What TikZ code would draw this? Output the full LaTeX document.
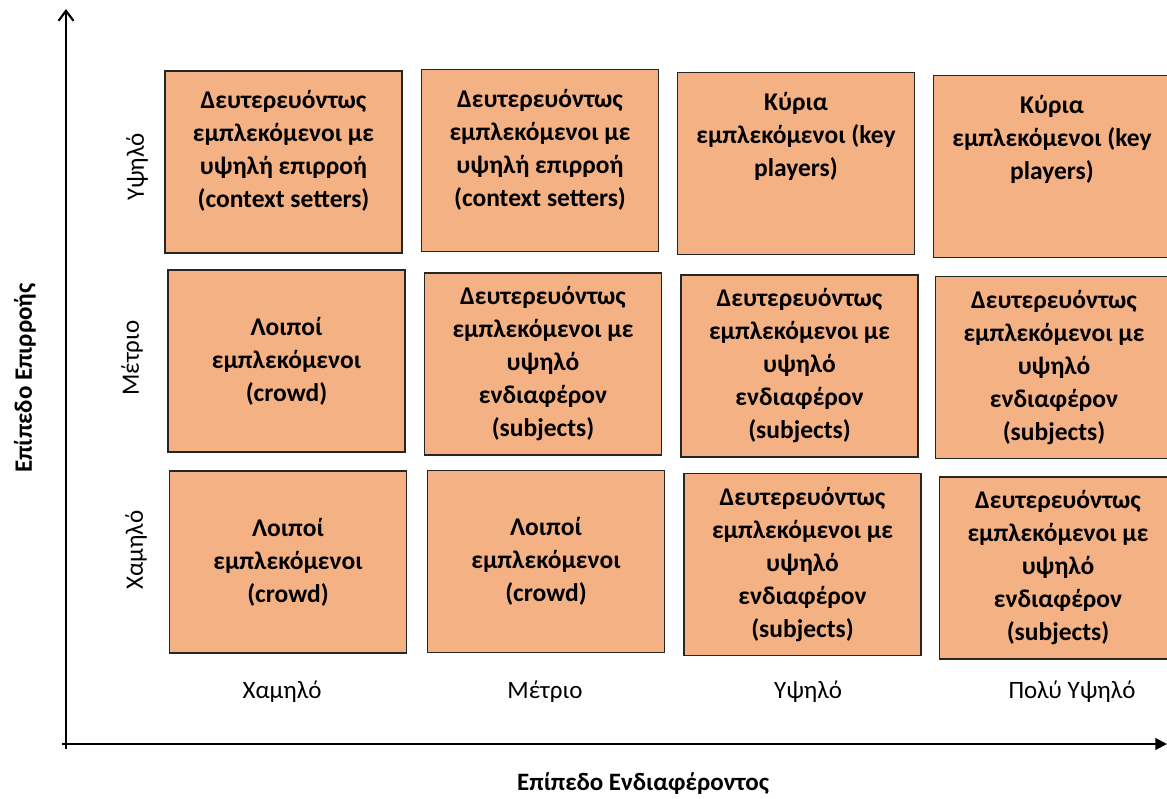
\documentclass[tikz,border=0pt]{standalone}
\usepackage{fontspec}
\setmainfont{Carlito}
\usetikzlibrary{arrows.meta,positioning}
\definecolor{cellfill}{HTML}{F4B183}
\definecolor{celledge}{HTML}{262626}
\tikzset{
  cell/.style={draw=celledge, fill=cellfill, line width=0.8pt, minimum width=142.2pt, minimum height=109.2pt, inner sep=2pt, align=center, font=\bfseries\fontsize{15.3}{19.8}\selectfont},
  celltext/.style={align=center, inner sep=0pt, font=\bfseries\fontsize{15.3}{19.8}\selectfont},
  level/.style={font=\fontsize{15}{18}\selectfont},
  axistitle/.style={font=\bfseries\fontsize{15}{18}\selectfont},
}
\begin{document}
\begin{tikzpicture}[x=0.6pt, y=-0.6pt]
      \clip (0,0) rectangle (1167,798);
      \fill[white] (0,0) rectangle (1167,798);
      % axes
      \coordinate (ytop) at (66,9);
      \coordinate (ybot) at (66,749);
      \coordinate (xleft) at (62,744);
      \coordinate (xright) at (1167,744);
      \draw[line width=1.3pt, -{Straight Barb[length=6pt, width=9pt]}] (ybot) -- (ytop);
      \draw[line width=1.3pt, -{Triangle[length=7pt, width=7pt]}] (xleft) -- (xright);
      \node[axistitle, rotate=90] (yname) at (25,378) {Επίπεδο Επιρροής};
      \node[axistitle] (xname) at (643,784) {Επίπεδο Ενδιαφέροντος};
      % levels
      \node[level, rotate=90] (yhigh) at (137,167) {Υψηλό};
      \node[level, rotate=90] (ymid) at (132,358) {Μέτριο};
      \node[level, rotate=90] (ylow) at (136,550) {Χαμηλό};
      \node[level] (xlow) at (282,692) {Χαμηλό};
      \node[level] (xmid) at (545,692) {Μέτριο};
      \node[level] (xhigh) at (808,692) {Υψηλό};
      \node[level] (xvhigh) at (1072,692) {Πολύ Υψηλό};
      % top row
      \node[cell] (b11) at (283.5,162) {};
      \node[cell] (b12) at (540,160.5) {};
      \node[cell] (b13) at (796,163.5) {};
      \node[cell] (b14) at (1052,166.5) {};
      \node[celltext, below=12pt of b11.north] (t11) {Δευτερευόντως\\εμπλεκόμενοι με\\υψηλή επιρροή\\(context setters)};
      \node[celltext, below=12pt of b12.north] (t12) {Δευτερευόντως\\εμπλεκόμενοι με\\υψηλή επιρροή\\(context setters)};
      \node[celltext, below=12pt of b13.north] (t13) {Κύρια\\εμπλεκόμενοι (key\\players)};
      \node[celltext, below=12pt of b14.north] (t14) {Κύρια\\εμπλεκόμενοι (key\\players)};
      % middle row
      \node[cell] (b21) at (286.5,361) {Λοιποί\\εμπλεκόμενοι\\(crowd)};
      \node[cell] (b22) at (543,364) {Δευτερευόντως\\εμπλεκόμενοι με\\υψηλό\\ενδιαφέρον\\(subjects)};
      \node[cell] (b23) at (799.5,366) {Δευτερευόντως\\εμπλεκόμενοι με\\υψηλό\\ενδιαφέρον\\(subjects)};
      \node[cell] (b24) at (1054,367.5) {Δευτερευόντως\\εμπλεκόμενοι με\\υψηλό\\ενδιαφέρον\\(subjects)};
      % bottom row
      \node[cell] (b31) at (288,562) {Λοιποί\\εμπλεκόμενοι\\(crowd)};
      \node[cell] (b32) at (546,561.5) {Λοιποί\\εμπλεκόμενοι\\(crowd)};
      \node[cell] (b33) at (802.5,564.5) {Δευτερευόντως\\εμπλεκόμενοι με\\υψηλό\\ενδιαφέρον\\(subjects)};
      \node[cell] (b34) at (1058,568) {Δευτερευόντως\\εμπλεκόμενοι με\\υψηλό\\ενδιαφέρον\\(subjects)};
\end{tikzpicture}
\end{document}
